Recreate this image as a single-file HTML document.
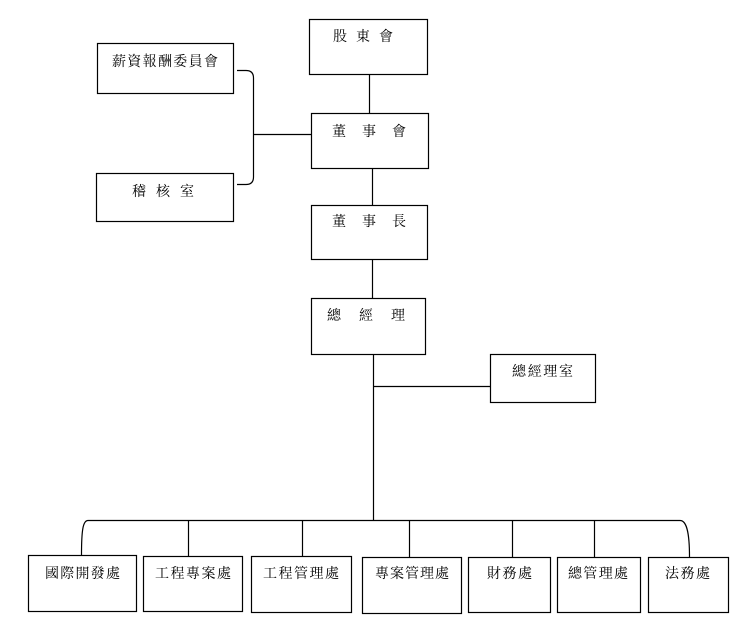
<!DOCTYPE html>
<html>
<head>
<meta charset="utf-8">
<style>
html,body{margin:0;padding:0;background:#fff;}
svg{display:block;}
text{font-family:"Liberation Serif","Noto Serif CJK SC","Noto Serif CJK TC",serif;font-size:14px;fill:#000;}
</style>
</head>
<body>
<svg width="747" height="639" viewBox="0 0 747 639" xmlns="http://www.w3.org/2000/svg">
<g fill="none" stroke="#000" stroke-width="1.2">
  <!-- boxes -->
  <rect x="309.5" y="19.5" width="118" height="55"/>
  <rect x="97.5" y="43.5" width="136" height="50"/>
  <rect x="96.5" y="173.5" width="137" height="48"/>
  <rect x="311.5" y="113.5" width="117" height="55"/>
  <rect x="311.5" y="205.5" width="116" height="54"/>
  <rect x="311.5" y="298.5" width="114" height="56"/>
  <rect x="490.5" y="354.5" width="105" height="48"/>
  <rect x="28.5" y="555.5" width="108" height="56"/>
  <rect x="143.5" y="556.5" width="99" height="55"/>
  <rect x="251.5" y="556.5" width="100" height="56"/>
  <rect x="362.5" y="557.5" width="99" height="56"/>
  <rect x="468.5" y="557.5" width="82" height="55"/>
  <rect x="557.5" y="557.5" width="83" height="55"/>
  <rect x="648.5" y="557.5" width="80" height="55"/>
  <!-- connectors -->
  <line x1="369.5" y1="74" x2="369.5" y2="113"/>
  <line x1="372.5" y1="168" x2="372.5" y2="205"/>
  <line x1="372.5" y1="259" x2="372.5" y2="298"/>
  <line x1="373.5" y1="354" x2="373.5" y2="520"/>
  <line x1="373" y1="386.5" x2="490" y2="386.5"/>
  <line x1="88" y1="520.5" x2="680" y2="520.5"/>
  <line x1="188.5" y1="520" x2="188.5" y2="556"/>
  <line x1="302.5" y1="520" x2="302.5" y2="556"/>
  <line x1="409.5" y1="520" x2="409.5" y2="557"/>
  <line x1="512.5" y1="520" x2="512.5" y2="557"/>
  <line x1="594.5" y1="520" x2="594.5" y2="557"/>
  <path d="M88 520.5 C83 520.5, 81.5 530, 81.5 555"/>
  <path d="M680 520.5 C686 520.5, 689.5 530, 689.5 557"/>
  <path d="M237 70.5 L246 70.5 Q253.5 70.5 253.5 78 L253.5 177 Q253.5 184.5 246 184.5 L237 184.5"/>
  <line x1="253" y1="134.5" x2="311" y2="134.5"/>
</g>
<g>
  <text x="333 356 379" y="41">股東會</text>
  <text x="112 127.3 142.6 158 173.3 188.6 204" y="66">薪資報酬委員會</text>
  <text x="332 362 392" y="136">董事會</text>
  <text x="132 156 180" y="196">稽核室</text>
  <text x="332 362 392" y="226">董事長</text>
  <text x="327 359 391" y="320">總經理</text>
  <text x="512 527.7 543.3 559" y="376">總經理室</text>
  <text x="45 60.25 75.5 90.75 106" y="578">國際開發處</text>
  <text x="155 170.5 186 201.5 217" y="578">工程專案處</text>
  <text x="263 278.5 294 309.5 325" y="578">工程管理處</text>
  <text x="375 390 405 420 435" y="578">專案管理處</text>
  <text x="487 502.5 518" y="578">財務處</text>
  <text x="568 583.3 598.7 614" y="578">總管理處</text>
  <text x="665 680.5 696" y="578">法務處</text>
</g>
</svg>
</body>
</html>
